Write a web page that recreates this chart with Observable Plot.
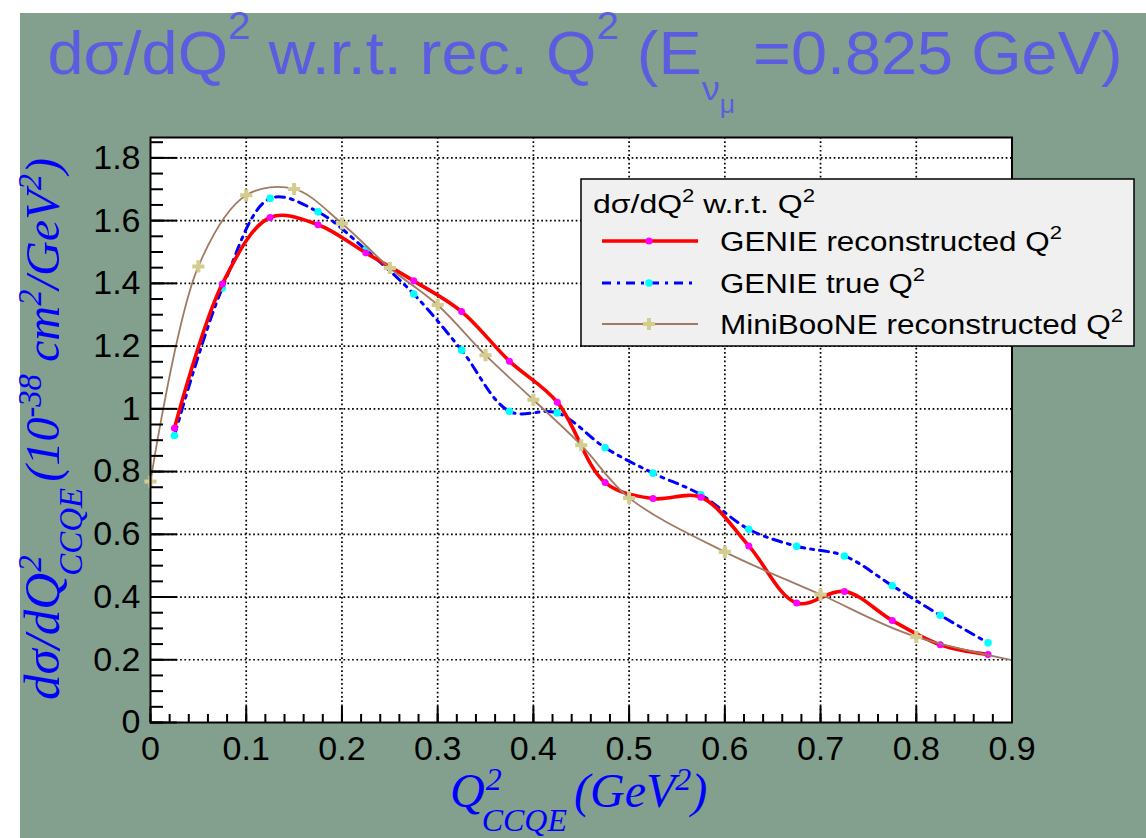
<!DOCTYPE html>
<html>
<head>
<meta charset="utf-8">
<script src="https://cdn.jsdelivr.net/npm/d3@7"></script>
<script src="https://cdn.jsdelivr.net/npm/@observablehq/plot@0.6"></script>
<style>
  body { margin: 0; background: #ffffff; }
  #wrap { position: relative; width: 1146px; height: 838px; overflow: hidden; background: #ffffff; }
  #chart { position: absolute; left: 20px; top: 13px; }
  #overlay { position: absolute; left: 0; top: 0; pointer-events: none; }
  .sans { font-family: "Liberation Sans", Arial, Helvetica, sans-serif; }
  .serif { font-family: "Liberation Serif", "Times New Roman", serif; font-style: italic; }
</style>
</head>
<body>
<div id="wrap">
  <div id="chart"></div>
  <svg id="overlay" width="1146" height="838"></svg>
</div>
<script>
// Q² bin centres (GeV²) for the GENIE histograms
const binCenters = [0.025, 0.075, 0.125, 0.175, 0.225, 0.275, 0.325, 0.375, 0.425,
                    0.475, 0.525, 0.575, 0.625, 0.675, 0.725, 0.775, 0.825, 0.875];
// GENIE dσ/dQ² vs reconstructed Q² (10^-38 cm²/GeV²)
const genieReco = [0.938, 1.398, 1.610, 1.587, 1.497, 1.408, 1.310, 1.152, 1.021,
                   0.765, 0.714, 0.718, 0.563, 0.381, 0.418, 0.325, 0.248, 0.217];
// GENIE dσ/dQ² vs true Q²
const genieTrue = [0.915, 1.385, 1.671, 1.628, 1.507, 1.366, 1.187, 0.992, 0.987,
                   0.876, 0.795, 0.726, 0.616, 0.562, 0.531, 0.436, 0.342, 0.254];
// MiniBooNE reconstructed-Q² points
const mbQ2    = [0, 0.05, 0.10, 0.15, 0.20, 0.25, 0.30, 0.35, 0.40, 0.45, 0.50, 0.60, 0.70, 0.80, 1.00];
const mbXsec  = [0.768, 1.454, 1.681, 1.701, 1.591, 1.449, 1.331, 1.171, 1.029, 0.884, 0.716, 0.544, 0.408, 0.273, 0.140];

// axis ticks and their labels
const xTicks = [0, 0.1, 0.2, 0.3, 0.4, 0.5, 0.6, 0.7, 0.8, 0.9];
const xTickLabels = ["0", "0.1", "0.2", "0.3", "0.4", "0.5", "0.6", "0.7", "0.8", "0.9"];
const yTicks = [0, 0.2, 0.4, 0.6, 0.8, 1.0, 1.2, 1.4, 1.6, 1.8];
const yTickLabels = ["0", "0.2", "0.4", "0.6", "0.8", "1", "1.2", "1.4", "1.6", "1.8"];

// series names
const seriesNames = ["GENIE reconstructed Q", "GENIE true Q", "MiniBooNE reconstructed Q"];

// styling
const PAD_GREEN = "#82a08d";
const TITLE_BLUE = "#5c5ce0";
const AXIS_BLUE = "#0000ff";
const RECO_RED = "#ff0000", RECO_MARK = "#ff00ff";
const TRUE_BLUE = "#0000ff", TRUE_MARK = "#00ffff";
const MB_BROWN = "#a07a62", MB_MARK = "#d4cd90";
const TRUE_DASH = "9,6,3,6";

const recoRows = binCenters.map((q, i) => ({q, v: genieReco[i]}));
const trueRows = binCenters.map((q, i) => ({q, v: genieTrue[i]}));
const mbRows = mbQ2.map((q, i) => ({q, v: mbXsec[i]}));

const X_MAX = 0.9, Y_MAX = 1.865;
const xMinor = d3.range(0, X_MAX + 1e-9, 0.02);
const yMinor = d3.range(0, Y_MAX, 0.05);
const xLabel = new Map(xTicks.map((t, i) => [t, xTickLabels[i]]));
const yLabel = new Map(yTicks.map((t, i) => [t, yTickLabels[i]]));
const blank = () => "";

const gridStyle = {stroke: "#000", strokeOpacity: 1, strokeWidth: 1.7, strokeDasharray: "1.7,2.6"};

const chart = Plot.plot({
  width: 1126,
  height: 825,
  marginLeft: 130,
  marginRight: 134.5,
  marginTop: 124,
  marginBottom: 116,
  style: {background: PAD_GREEN, fontFamily: "'Liberation Sans', Arial, sans-serif", overflow: "visible"},
  x: {domain: [0, X_MAX]},
  y: {domain: [0, Y_MAX]},
  marks: [
    Plot.frame({fill: "#ffffff", stroke: "none"}),
    Plot.gridX(xTicks.filter(t => t > 0 && t < X_MAX), gridStyle),
    Plot.gridY(yTicks.filter(t => t > 0), gridStyle),
    // GENIE true Q²
    Plot.line(trueRows, {x: "q", y: "v", curve: "catmull-rom", stroke: TRUE_BLUE, strokeWidth: 3, strokeDasharray: TRUE_DASH}),
    Plot.dot(trueRows, {x: "q", y: "v", r: 3.8, fill: TRUE_MARK}),
    // GENIE reconstructed Q²
    Plot.line(recoRows, {x: "q", y: "v", curve: "catmull-rom", stroke: RECO_RED, strokeWidth: 3.6}),
    Plot.dot(recoRows, {x: "q", y: "v", r: 3.5, fill: RECO_MARK}),
    // MiniBooNE
    Plot.line(mbRows, {x: "q", y: "v", curve: "catmull-rom", stroke: MB_BROWN, strokeWidth: 1.8, clip: true}),
    Plot.dot(mbRows.filter(d => d.q <= X_MAX), {x: "q", y: "v", symbol: "cross", r: 5.1, fill: MB_MARK}),
    // frame and ticks
    Plot.frame({stroke: "#000", strokeWidth: 2}),
    Plot.axisY(yMinor, {tickSize: -13, strokeWidth: 2, tickFormat: blank, label: null}),
    Plot.axisY(yTicks, {tickSize: -27, strokeWidth: 2, tickFormat: blank, label: null}),
    Plot.axisX(xMinor, {tickSize: -8, strokeWidth: 2, tickFormat: blank, label: null}),
    Plot.axisX(xTicks, {tickSize: -16, strokeWidth: 2, tickFormat: blank, label: null}),
    Plot.axisY(yTicks, {tickSize: 0, tickPadding: 10, fontSize: 34, fill: "#000", tickFormat: d => yLabel.get(d), label: null}),
    Plot.axisX(xTicks, {tickSize: 0, tickPadding: 13, fontSize: 34, fill: "#000", tickFormat: d => xLabel.get(d), label: null})
  ]
});
document.getElementById("chart").append(chart);

// titles and legend drawn on an overlay
const ov = d3.select("#overlay");
const width = sel => sel.node().getComputedTextLength();

// page title
const title = ov.append("text").attr("class", "sans")
  .attr("x", 585).attr("y", 74).attr("text-anchor", "middle")
  .attr("font-size", 61).attr("fill", TITLE_BLUE)
  .attr("textLength", 1075).attr("lengthAdjust", "spacingAndGlyphs");
title.append("tspan").text("dσ/dQ");
title.append("tspan").attr("dy", -35).attr("font-size", 38).text("2");
title.append("tspan").attr("dy", 35).text(" w.r.t. rec. Q");
title.append("tspan").attr("dy", -35).attr("font-size", 38).text("2");
title.append("tspan").attr("dy", 35).text(" (E");
title.append("tspan").attr("dy", 26).attr("font-size", 34).text("ν");
title.append("tspan").attr("dy", 13).attr("font-size", 25).text("μ");
title.append("tspan").attr("dy", -39).text(" =0.825 GeV)");

// x-axis title: Q with stacked superscript 2 and subscript CCQE
const xt = ov.append("g").attr("class", "serif").attr("fill", AXIS_BLUE);
const xQ = xt.append("text").attr("x", 450).attr("y", 807).attr("font-size", 48).text("Q");
const xQw = width(xQ);
xt.append("text").attr("x", 450 + xQw + 1).attr("y", 790).attr("font-size", 32).text("2");
xt.append("text").attr("x", 450 + xQw - 3).attr("y", 831).attr("font-size", 32).text("CCQE");
const xt2 = xt.append("text").attr("x", 574).attr("y", 807).attr("font-size", 48);
xt2.append("tspan").text("(GeV");
xt2.append("tspan").attr("dy", -17).attr("font-size", 32).text("2");
xt2.append("tspan").attr("dy", 17).text(")");

// y-axis title (rotated, reading upwards)
const yt = ov.append("g").attr("class", "serif").attr("fill", AXIS_BLUE)
  .attr("transform", "translate(59,700) rotate(-90)");
const y1 = yt.append("text").attr("x", 0).attr("y", 0).attr("font-size", 51).text("dσ/dQ");
const y1w = width(y1);
yt.append("text").attr("x", y1w + 1).attr("y", -18).attr("font-size", 33).text("2");
const ysub = yt.append("text").attr("x", y1w - 3).attr("y", 23).attr("font-size", 33).text("CCQE");
const ysubEnd = y1w - 3 + width(ysub);
const yt2 = yt.append("text").attr("x", ysubEnd + 6).attr("y", 0).attr("font-size", 49)
  .attr("textLength", 542 - (ysubEnd + 6)).attr("lengthAdjust", "spacingAndGlyphs");
yt2.append("tspan").text("(10");
yt2.append("tspan").attr("dy", -18).attr("font-size", 33).text("-38");
yt2.append("tspan").attr("dy", 18).text(" cm");
yt2.append("tspan").attr("dy", -18).attr("font-size", 33).text("2");
yt2.append("tspan").attr("dy", 18).text("/GeV");
yt2.append("tspan").attr("dy", -18).attr("font-size", 33).text("2");
yt2.append("tspan").attr("dy", 18).text(")");

// legend
const lg = ov.append("g").attr("class", "sans");
lg.append("rect").attr("x", 581).attr("y", 179).attr("width", 553).attr("height", 167)
  .attr("fill", "#f0f0f0").attr("stroke", "#000").attr("stroke-width", 1.5);
const hdr = lg.append("text").attr("x", 593).attr("y", 213).attr("font-size", 26).attr("fill", "#000")
  .attr("textLength", 222).attr("lengthAdjust", "spacingAndGlyphs");
hdr.append("tspan").text("dσ/dQ");
hdr.append("tspan").attr("dy", -11).attr("font-size", 18).text("2");
hdr.append("tspan").attr("dy", 11).text(" w.r.t. Q");
hdr.append("tspan").attr("dy", -11).attr("font-size", 18).text("2");

const entries = [
  {name: seriesNames[0], y: 241, stroke: RECO_RED, width: 3.6, dash: null, mark: "dot", color: RECO_MARK, r: 3.5, len: 342},
  {name: seriesNames[1], y: 283, stroke: TRUE_BLUE, width: 3, dash: TRUE_DASH, mark: "dot", color: TRUE_MARK, r: 3.8, len: 205},
  {name: seriesNames[2], y: 324, stroke: MB_BROWN, width: 1.8, dash: null, mark: "cross", color: MB_MARK, r: 5.1, len: 403}
];
for (const e of entries) {
  const ln = lg.append("line").attr("x1", 602).attr("x2", 698).attr("y1", e.y).attr("y2", e.y)
    .attr("stroke", e.stroke).attr("stroke-width", e.width);
  if (e.dash) ln.attr("stroke-dasharray", e.dash);
  const sym = e.mark === "cross" ? d3.symbolCross : d3.symbolCircle;
  lg.append("path").attr("transform", `translate(649,${e.y})`)
    .attr("d", d3.symbol(sym, Math.PI * e.r * e.r)()).attr("fill", e.color);
  const t = lg.append("text").attr("x", 720).attr("y", e.y + 10).attr("font-size", 27).attr("fill", "#000")
    .attr("textLength", e.len).attr("lengthAdjust", "spacingAndGlyphs");
  t.append("tspan").text(e.name);
  t.append("tspan").attr("dy", -12).attr("font-size", 19).text("2");
}
</script>
</body>
</html>
